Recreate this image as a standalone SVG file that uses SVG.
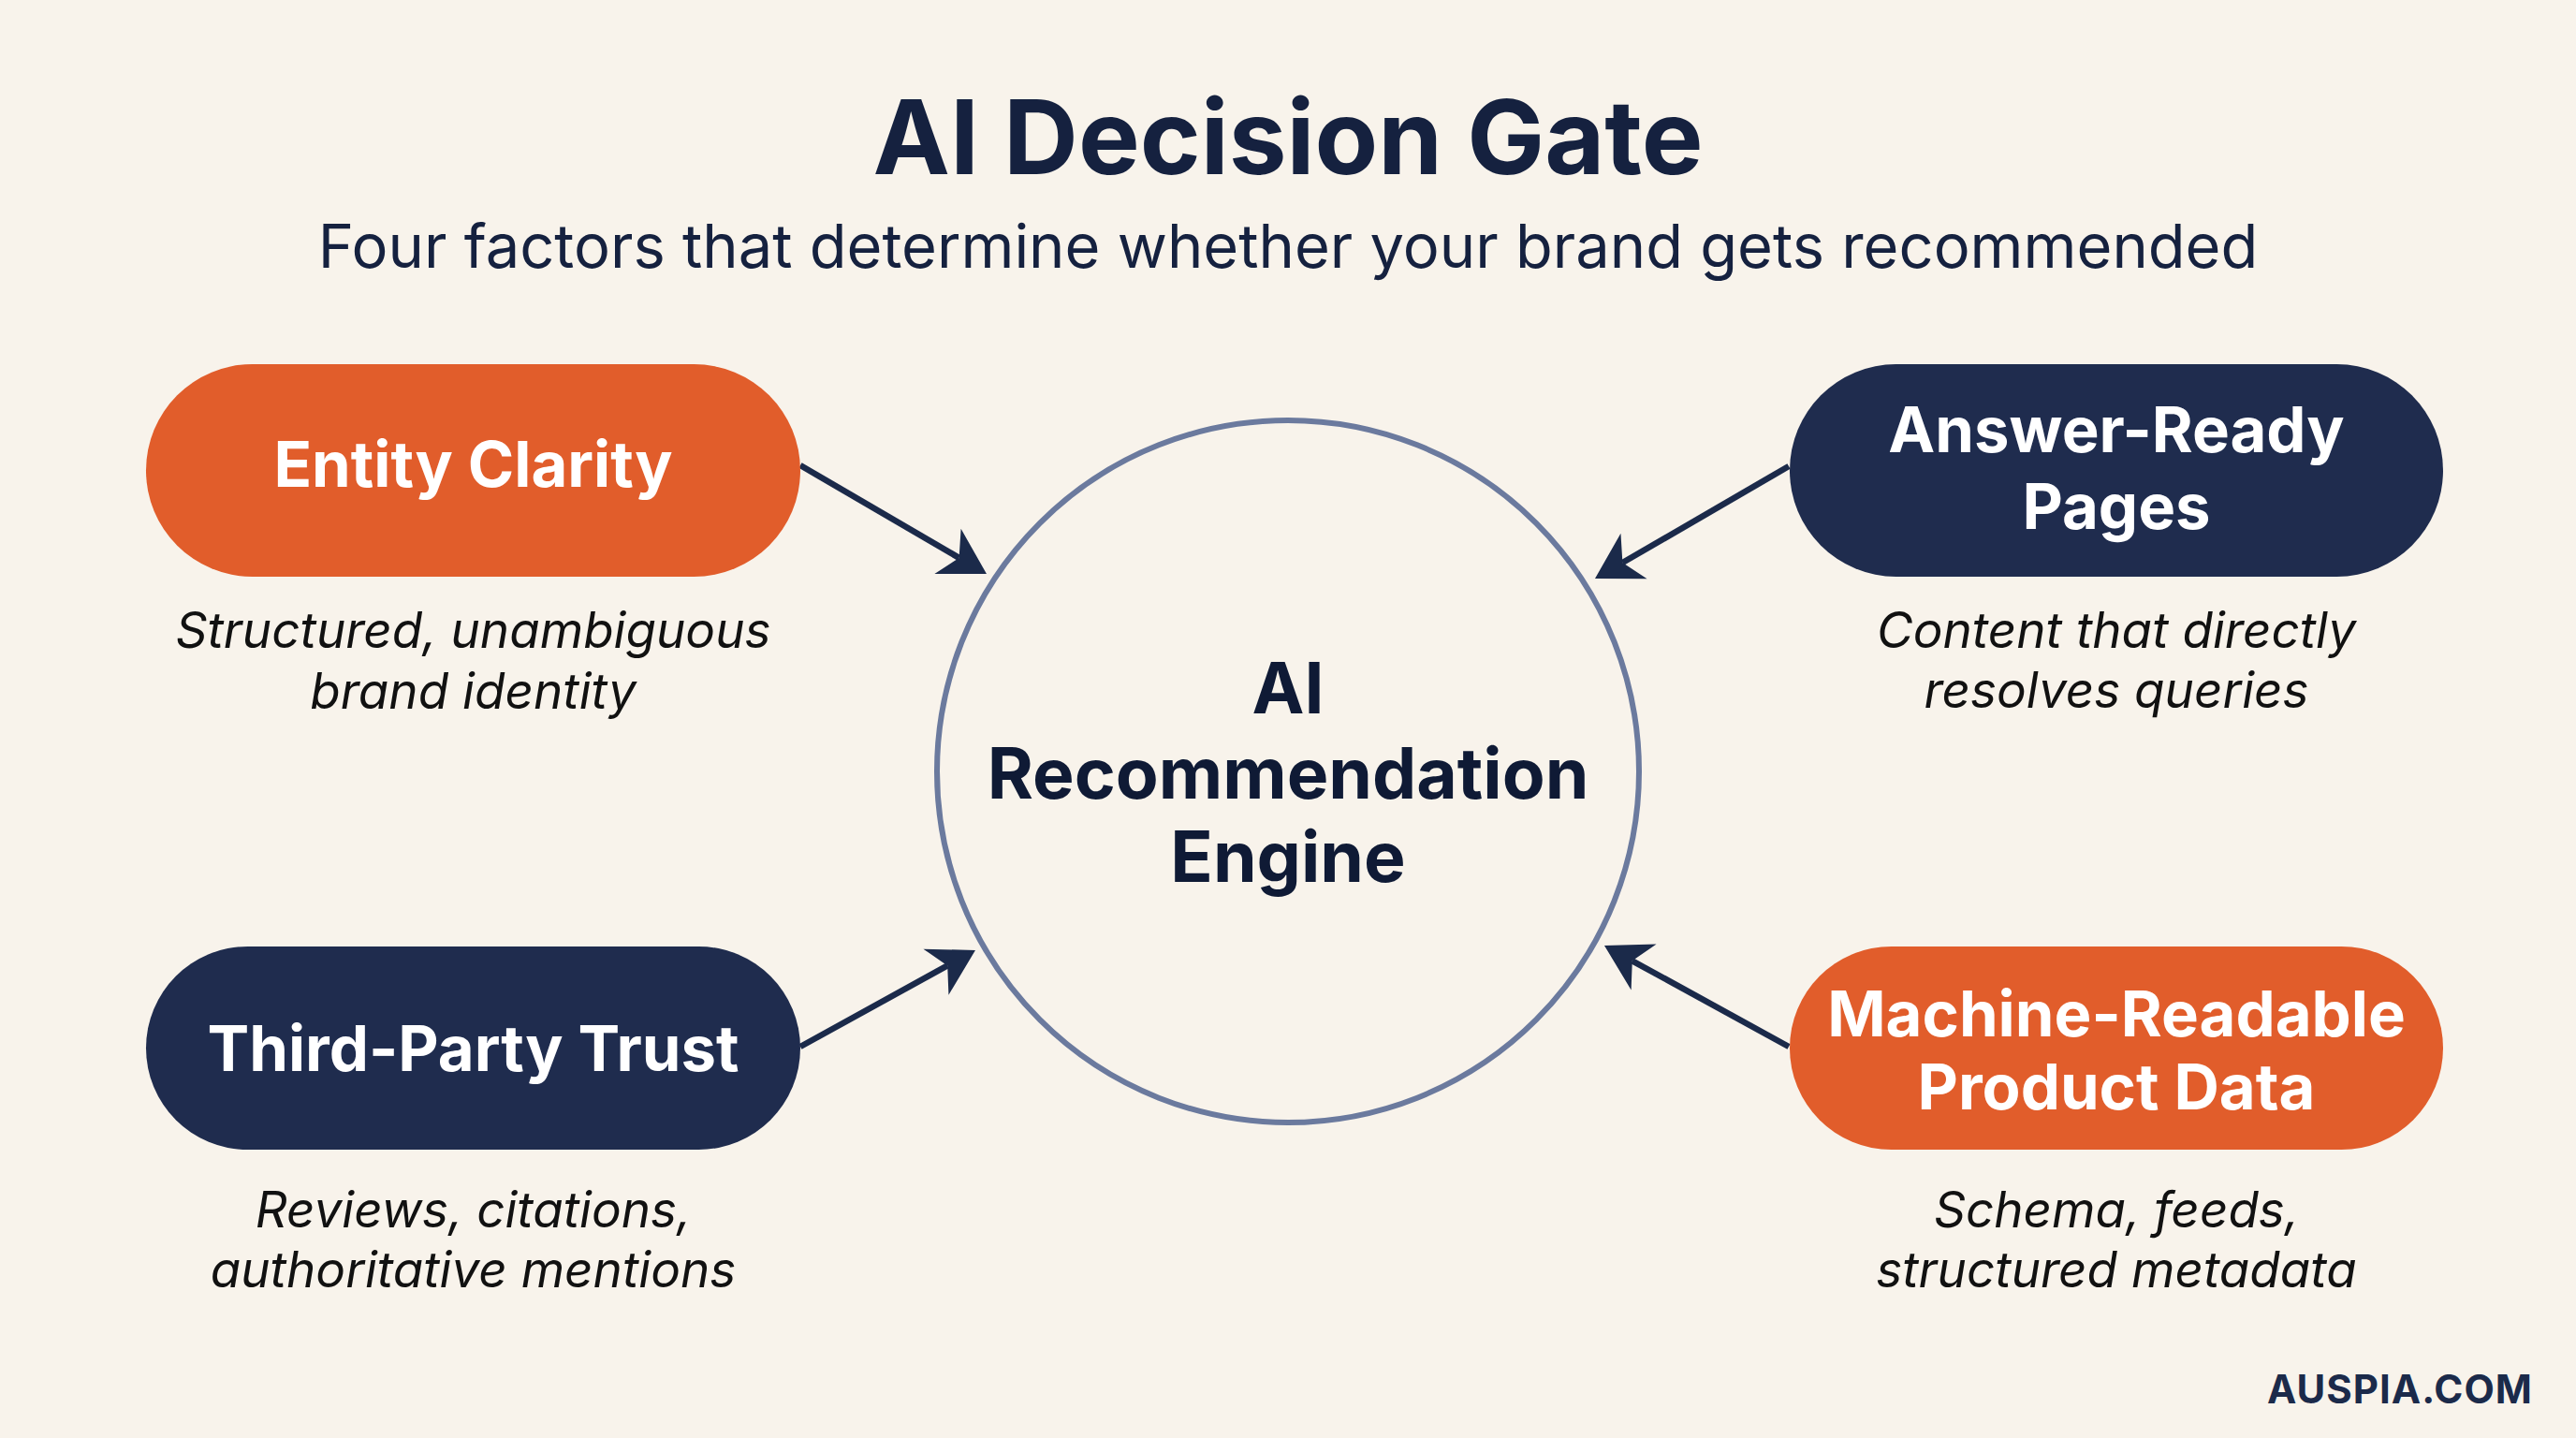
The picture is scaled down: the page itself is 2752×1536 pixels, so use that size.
<svg xmlns="http://www.w3.org/2000/svg" width="2752" height="1536" viewBox="0 0 2752 1536">
  <defs>
    <marker id="arrow" markerUnits="userSpaceOnUse" markerWidth="50" markerHeight="58" refX="14" refY="28" orient="auto" overflow="visible">
      <path d="M0,0 L48,28 L0,56 L14,28 Z" fill="#1b2a4a"/>
    </marker>
    <style>
      .title { font-family: Inter, "Liberation Sans", sans-serif; font-weight: 700; font-size: 110.5px; fill: #15213f; }
      .subtitle { font-family: Inter, "Liberation Sans", sans-serif; font-weight: 400; font-size: 65px; fill: #15213f; }
      .pill-text { font-family: Inter, "Liberation Sans", sans-serif; font-weight: 700; font-size: 67px; fill: #ffffff; text-anchor: middle; }
      .core-text { font-family: Inter, "Liberation Sans", sans-serif; font-weight: 700; font-size: 75px; fill: #0f1a35; text-anchor: middle; }
      .desc { font-family: Inter, "Liberation Sans", sans-serif; font-style: italic; font-weight: 400; font-size: 53px; fill: #111111; text-anchor: middle; }
      .brand { font-family: Inter, "Liberation Sans", sans-serif; font-weight: 700; font-size: 42px; fill: #1b2a4a; letter-spacing: 1px; }
      .orange { fill: #e15d2b; }
      .navy { fill: #1f2c4e; }
      .conn { stroke: #1b2a4a; stroke-width: 6.5; fill: none; marker-end: url(#arrow); }
    </style>
  </defs>

  <rect x="0" y="0" width="2752" height="1536" fill="#f8f3eb"/>

  <g id="header">
    <text class="title" x="1376" y="186" text-anchor="middle">AI Decision Gate</text>
    <text class="subtitle" x="1376" y="286" text-anchor="middle">Four factors that determine whether your brand gets recommended</text>
  </g>

  <g id="connectors">
    <line class="conn" x1="855" y1="497" x2="1024.6" y2="595.9"/>
    <line class="conn" x1="1911" y1="498" x2="1733.4" y2="601"/>
    <line class="conn" x1="855" y1="1118" x2="1012.2" y2="1031.4"/>
    <line class="conn" x1="1911" y1="1118" x2="1743.8" y2="1026.3"/>
  </g>

  <g id="engine">
    <circle cx="1376" cy="824" r="375" fill="none" stroke="#6b7a9e" stroke-width="6"/>
    <text class="core-text" x="1376" y="762">AI</text>
    <text class="core-text" x="1376" y="853">Recommendation</text>
    <text class="core-text" x="1376" y="942">Engine</text>
  </g>

  <g id="entity-clarity">
    <rect class="orange" x="156" y="389" width="699" height="227" rx="113.5"/>
    <text class="pill-text" x="505.5" y="520">Entity Clarity</text>
    <text class="desc" x="505.5" y="692">Structured, unambiguous</text>
    <text class="desc" x="505.5" y="757">brand identity</text>
  </g>

  <g id="answer-ready-pages">
    <rect class="navy" x="1912" y="389" width="698" height="227" rx="113.5"/>
    <text class="pill-text" x="2261" y="483">Answer-Ready</text>
    <text class="pill-text" x="2261" y="565">Pages</text>
    <text class="desc" x="2261" y="692">Content that directly</text>
    <text class="desc" x="2261" y="756">resolves queries</text>
  </g>

  <g id="third-party-trust">
    <rect class="navy" x="156" y="1011" width="699" height="217" rx="108.5"/>
    <text class="pill-text" x="505.5" y="1144">Third-Party Trust</text>
    <text class="desc" x="505.5" y="1311">Reviews, citations,</text>
    <text class="desc" x="505.5" y="1375">authoritative mentions</text>
  </g>

  <g id="machine-readable-product-data">
    <rect class="orange" x="1912" y="1011" width="698" height="217" rx="108.5"/>
    <text class="pill-text" x="2261" y="1107">Machine-Readable</text>
    <text class="pill-text" x="2261" y="1185">Product Data</text>
    <text class="desc" x="2261" y="1311">Schema, feeds,</text>
    <text class="desc" x="2261" y="1375">structured metadata</text>
  </g>

  <g id="footer">
    <text class="brand" x="2564" y="1499" text-anchor="middle">AUSPIA.COM</text>
  </g>
</svg>
